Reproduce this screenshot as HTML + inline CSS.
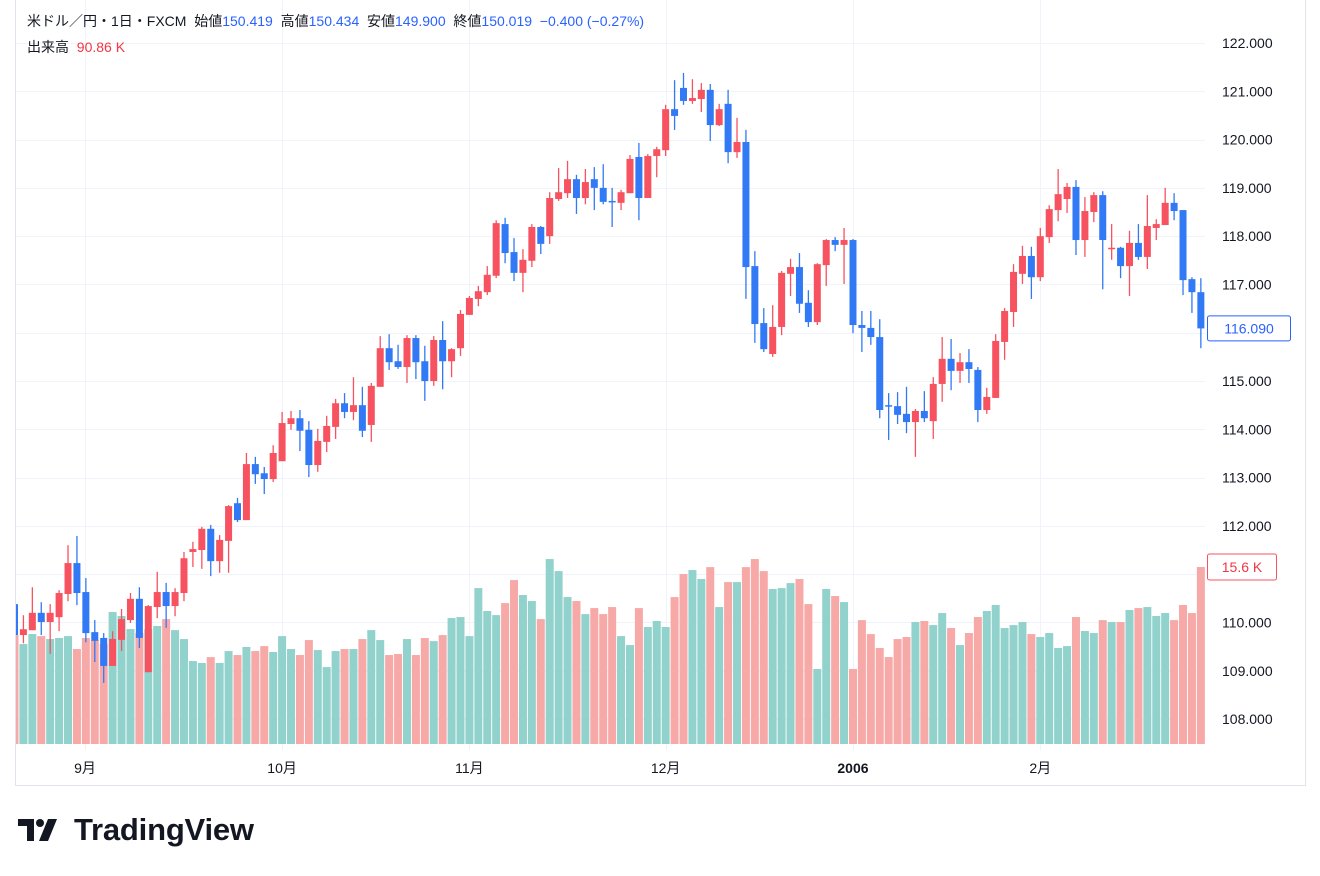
<!DOCTYPE html>
<html><head><meta charset="utf-8">
<style>
body{margin:0;background:#fff;width:1320px;height:876px;overflow:hidden;font-family:"Liberation Sans","Noto Sans CJK JP",sans-serif;}
#wrap{position:relative;width:1320px;height:876px;}
svg{position:absolute;left:0;top:0;}
.hdr{position:absolute;left:27px;font-size:14px;color:#131722;white-space:nowrap;}
.v{color:#2962ff;}
.r{color:#f23645;}
</style></head><body>
<div id="wrap">
<svg id="chart" width="1320" height="876"><defs><clipPath id="plot"><rect x="16" y="0" width="1190" height="750"/></clipPath></defs></svg>
<div class="hdr" style="top:11px">米ドル／円・1日・FXCM&nbsp; 始値<span class="v">150.419</span>&nbsp; 高値<span class="v">150.434</span>&nbsp; 安値<span class="v">149.900</span>&nbsp; 終値<span class="v">150.019</span>&nbsp; <span class="v">−0.400 (−0.27%)</span></div>
<div class="hdr" style="top:37px">出来高&nbsp; <span class="r">90.86 K</span></div>
<div style="position:absolute;left:18px;top:812px;display:flex;align-items:center;">
<svg width="46" height="26" viewBox="0 0 46 26" style="position:static"><path d="M0 2h16v22H9V9H0z" fill="#131722"/><circle cx="22" cy="6" r="4" fill="#131722"/><path d="M30 2h9l-9 22h-9z" fill="#131722"/></svg>
<span style="font-size:31px;font-weight:bold;color:#131722;margin-left:10px;letter-spacing:-0.2px">TradingView</span>
</div>
</div>
<script>
const opens=[110.38,109.74,109.84,110.20,110.01,110.11,110.59,111.23,110.63,109.80,109.68,109.10,109.64,110.05,110.49,108.97,110.32,110.63,110.34,110.61,111.46,111.50,111.94,111.27,111.69,112.47,112.12,113.28,113.09,112.97,113.34,114.11,114.23,113.99,113.26,113.74,114.05,114.54,114.36,114.50,114.09,114.88,115.68,115.41,115.29,115.89,115.41,115.00,115.85,115.41,115.68,116.37,116.70,116.84,117.18,118.25,117.67,117.24,117.49,118.19,118.00,118.77,118.89,119.18,118.79,119.18,119.00,118.73,118.69,118.89,119.64,118.79,119.66,119.78,120.63,121.07,120.80,120.84,121.03,120.30,120.74,119.74,119.95,117.38,116.20,115.56,116.12,117.22,117.36,116.62,116.22,117.40,117.92,117.82,117.92,116.16,116.10,115.91,114.50,114.48,114.32,114.15,114.38,114.17,114.94,115.46,115.21,115.39,115.23,114.40,114.65,115.81,116.43,117.22,117.59,117.15,117.98,118.54,118.77,119.02,117.92,118.50,118.85,117.75,117.76,117.38,117.86,117.57,118.17,118.23,118.69,118.54,117.11,116.84];
const highs=[110.47,110.15,110.73,110.42,110.38,110.67,111.60,111.79,110.92,110.05,109.78,109.82,110.28,110.61,110.73,110.36,111.05,110.82,110.71,111.46,111.67,111.98,112.02,111.81,112.43,112.58,113.51,113.43,113.22,113.67,114.36,114.38,114.40,114.17,114.01,114.28,114.63,114.75,115.08,114.88,114.96,115.93,115.97,115.75,115.95,115.95,115.73,115.93,116.24,115.68,116.47,116.76,116.97,117.38,118.33,118.38,117.96,117.73,118.25,118.21,118.91,119.41,119.56,119.27,119.39,119.43,119.49,119.00,118.96,119.68,119.93,119.70,119.85,120.72,121.23,121.38,121.25,121.17,121.15,120.74,121.03,120.45,120.20,117.69,116.51,116.57,117.28,117.53,117.65,116.88,117.44,117.94,117.98,118.17,117.94,116.45,116.45,116.28,114.75,114.77,114.88,114.42,114.79,115.08,115.91,115.87,115.58,115.66,115.29,114.86,115.97,116.51,117.42,117.80,117.78,118.17,118.64,119.39,119.10,119.16,118.81,118.91,118.93,118.25,117.78,118.11,118.25,118.85,118.35,119.00,118.89,118.54,117.15,117.13];
const lows=[109.64,109.57,109.84,109.74,109.35,109.82,110.44,110.36,109.59,109.18,108.75,109.10,109.41,109.99,109.47,108.97,110.09,109.89,110.13,110.44,111.15,111.11,110.96,111.03,111.03,112.08,112.12,112.87,112.66,112.91,113.34,113.99,113.55,113.01,113.12,113.53,113.80,114.23,114.19,113.84,113.74,114.88,115.23,115.25,114.96,115.04,114.59,114.90,114.83,115.08,115.52,116.37,116.55,116.78,117.13,117.44,117.07,116.84,117.36,117.63,117.84,118.73,118.79,118.46,118.66,118.54,118.66,118.19,118.54,118.89,118.33,118.79,119.22,119.66,120.20,120.72,120.74,120.57,119.97,120.28,119.51,119.62,116.70,115.79,115.60,115.50,115.95,116.76,116.41,116.12,116.16,116.97,117.69,117.01,115.99,115.60,115.75,114.23,113.78,114.11,113.92,113.43,114.15,113.80,114.57,114.81,114.96,114.96,114.15,114.32,114.65,115.44,116.12,117.01,116.70,117.07,117.86,118.31,118.48,117.61,117.57,118.29,116.90,117.51,117.13,116.76,117.51,117.32,117.92,118.23,118.33,116.78,116.41,115.68];
const closes=[109.74,109.86,110.20,110.01,110.20,110.61,111.23,110.61,109.78,109.62,109.10,109.66,110.07,110.49,109.68,110.34,110.63,110.34,110.63,111.33,111.52,111.94,111.27,111.71,112.41,112.12,113.28,113.07,112.97,113.51,114.13,114.23,113.97,113.26,113.76,114.07,114.54,114.36,114.50,113.97,114.90,115.68,115.39,115.29,115.89,115.39,115.00,115.85,115.41,115.66,116.39,116.72,116.86,117.20,118.27,117.65,117.24,117.51,118.19,117.84,118.79,118.91,119.18,118.79,119.12,119.00,118.71,118.71,118.91,119.60,118.79,119.66,119.80,120.63,120.49,120.80,120.86,121.03,120.30,120.63,119.74,119.95,117.36,116.18,115.66,116.12,117.24,117.36,116.60,116.22,117.42,117.92,117.82,117.92,116.16,116.10,115.91,114.40,114.48,114.30,114.15,114.38,114.23,114.94,115.46,115.21,115.39,115.25,114.40,114.67,115.83,116.45,117.26,117.59,117.15,118.00,118.56,118.87,119.02,117.92,118.52,118.85,117.92,117.76,117.38,117.86,117.57,118.21,118.25,118.69,118.52,117.09,116.84,116.09];
const volumes=[9.60,8.81,9.69,9.51,9.25,9.34,9.51,8.37,9.34,9.16,8.81,11.63,11.28,10.13,9.78,10.13,10.40,11.01,10.04,9.25,7.31,7.14,7.66,7.14,8.19,7.84,8.55,8.19,8.63,8.11,9.51,8.37,7.84,9.16,8.28,6.78,8.19,8.37,8.37,9.25,10.04,9.16,7.84,7.93,9.25,7.84,9.34,9.07,9.60,11.10,11.19,9.51,13.74,11.72,11.36,12.42,14.45,13.13,12.60,11.01,16.30,15.24,12.95,12.60,11.45,11.98,11.45,12.07,9.51,8.72,11.98,10.31,10.84,10.31,12.95,14.98,15.33,14.54,15.59,12.07,14.27,14.27,15.59,16.30,15.24,13.66,13.74,14.18,14.54,12.33,6.61,13.66,13.04,12.51,6.61,10.92,9.69,8.46,7.66,9.25,9.43,10.75,10.84,10.48,11.54,10.22,8.72,9.78,11.19,11.72,12.25,10.22,10.48,10.75,9.69,9.43,9.78,8.46,8.63,11.19,9.96,9.78,10.92,10.75,10.75,11.81,11.98,12.07,11.28,11.54,10.92,12.25,11.54,15.6];
const volDir="pttptttppp"+"ptttpttptt"+"ttpttptppt"+"ttpptttptp"+"ttpptpptpt"+"tttttppttp"+"tttptppptt"+"ptttppttpt"+"ptppptttpp"+"ttptpppppp"+"ptpttptppt"+"ttttpttttp"+"ttptptpttt"+"pppp";
const priceTicks=[122,121,120,119,118,117,116,115,114,113,112,111,110,109,108];
const monthLabels=["9月","10月","11月","12月","2006","2月"];
const monthIndex=[7.9,30,51,73,94,115];
const lastClose=116.09, lastVolume=15.6;

const NS="http://www.w3.org/2000/svg";
const svg=document.getElementById('chart');
const yP=p=>43+(122-p)*48.29;
const xI=i=>14.5+i*8.92;
const yV=v=>744-v/15.6*177;
function mk(t,a,parent){const e=document.createElementNS(NS,t);for(const k in a)e.setAttribute(k,a[k]);(parent||svg).appendChild(e);return e;}
const RED="#f7525f",BLUE="#3179f5";

let b=mk('path',{d:'M15.5 0 V785.5 H1305.5 V0',fill:'none',stroke:'#e0e3eb','stroke-width':1});


const grid=mk('g',{});


priceTicks.forEach(p=>{mk('line',{x1:16,x2:1205,y1:Math.round(yP(p))+0.5,y2:Math.round(yP(p))+0.5,stroke:'#f0f3fa'},grid);});
monthIndex.forEach(i=>{const x=Math.round(xI(i))+0.5;mk('line',{x1:x,x2:x,y1:0,y2:750,stroke:'#f0f3fa'},grid);});

const vg=mk('g',{'clip-path':'url(#plot)'});


volumes.forEach((v,i)=>{
  const y=yV(v);
  const r=mk('rect',{x:xI(i)-4,y:y,width:8,height:744-y,fill:volDir[i]==='t'?'#92d2cc':'#f7a9a7'},vg);
  
  
});
const cg=mk('g',{'clip-path':'url(#plot)'});


opens.forEach((o,i)=>{
  const c=closes[i],up=c>=o,col=up?RED:BLUE,x=xI(i);
  const g=mk('g',{},cg);
  
  
  mk('line',{x1:x,x2:x,y1:yP(highs[i]),y2:yP(lows[i]),stroke:col,'stroke-width':1.3},g);
  const t=yP(Math.max(o,c)),bt=yP(Math.min(o,c));
  mk('rect',{x:x-3.5,y:t,width:7,height:Math.max(1.5,bt-t),fill:col},g);
});
const ax=mk('g',{});


priceTicks.forEach(p=>{
  const t=mk('text',{x:1222,y:yP(p)+5,'font-size':14,fill:'#131722','font-family':'Liberation Sans, sans-serif'},ax);
  t.textContent=p.toFixed(3);
  
  
});
const tx=mk('g',{});


monthLabels.forEach((m,k)=>{
  const t=mk('text',{x:xI(monthIndex[k]),y:773,'font-size':14,fill:'#131722','text-anchor':'middle','font-weight':m==='2006'?'bold':'normal','font-family':'Liberation Sans, Noto Sans CJK JP, sans-serif'},tx);
  t.textContent=m;
  
  
});
const vl=mk('g',{});


mk('rect',{x:1207.5,y:yV(lastVolume)-13,width:69,height:26,rx:2,fill:'#fff',stroke:RED},vl);
let t1=mk('text',{x:1242,y:yV(lastVolume)+5,'font-size':14,fill:'#f23645','text-anchor':'middle','font-family':'Liberation Sans, sans-serif'},vl);
t1.textContent='15.6 K';
const pl=mk('g',{});


mk('rect',{x:1207.5,y:yP(lastClose)-12.5,width:83,height:25,rx:2,fill:'#fff',stroke:'#2962ff'},pl);
let t2=mk('text',{x:1249,y:yP(lastClose)+5,'font-size':14,fill:'#2962ff','text-anchor':'middle','font-family':'Liberation Sans, sans-serif'},pl);
t2.textContent=lastClose.toFixed(3);
</script>
</body></html>
